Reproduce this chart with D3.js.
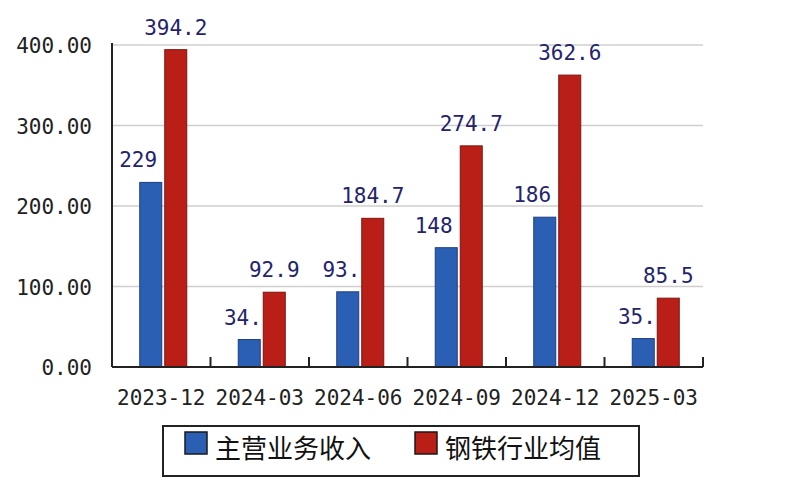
<!DOCTYPE html>
<html>
<head>
<meta charset="utf-8">
<script src="https://cdn.jsdelivr.net/npm/d3@7"></script>
<style>
  body { margin: 0; background: #fff; }
  svg { display: block; }
</style>
</head>
<body>
<script>
// data
var categories = ["2023-12", "2024-03", "2024-06", "2024-09", "2024-12", "2025-03"];
var revenue = [229.3, 34.1, 93.4, 148.2, 186.1, 35.3];      // 主营业务收入
var industryAvg = [394.2, 92.9, 184.7, 274.7, 362.6, 85.5];  // 钢铁行业均值
var seriesNames = ["主营业务收入", "钢铁行业均值"];
var yTicks = [0, 100, 200, 300, 400];

var colors = ["#2b5fb3", "#b91f16"];
var strokes = ["#1c3d85", "#7e140e"];

var W = 800, H = 500;
var plot = { left: 112, right: 703, top: 45, bottom: 367 };

var svg = d3.select("body").append("svg")
    .attr("width", W)
    .attr("height", H);

var x = d3.scaleBand()
    .domain(categories)
    .range([plot.left, plot.right]);

var y = d3.scaleLinear()
    .domain([0, 400])
    .range([plot.bottom, plot.top]);

var barW = 22, gap = 3;

// bar centre for series s in category i
function barCenter(i, s) {
    return x(categories[i]) + x.bandwidth() / 2 + 2 + (s === 0 ? -(barW + gap) / 2 : (barW + gap) / 2);
}

// gridlines
svg.append("g")
    .selectAll("line")
    .data(yTicks.filter(function(d) { return d > 0; }))
    .enter().append("line")
    .attr("x1", plot.left)
    .attr("x2", plot.right)
    .attr("y1", function(d) { return y(d); })
    .attr("y2", function(d) { return y(d); })
    .attr("stroke", "#cfcfcf")
    .attr("stroke-width", 1.5);

// y labels
svg.append("g")
    .selectAll("text")
    .data(yTicks)
    .enter().append("text")
    .attr("x", plot.left - 20)
    .attr("y", function(d) { return y(d) + 8; })
    .attr("text-anchor", "end")
    .attr("font-family", "DejaVu Sans Mono, monospace")
    .attr("font-size", 21)
    .attr("fill", "#222")
    .text(function(d) { return d.toFixed(2); });

// bars
var groups = [revenue, industryAvg];
groups.forEach(function(vals, s) {
    svg.append("g")
        .selectAll("rect")
        .data(vals)
        .enter().append("rect")
        .attr("x", function(d, i) { return barCenter(i, s) - barW / 2; })
        .attr("y", function(d) { return y(d); })
        .attr("width", barW)
        .attr("height", function(d) { return plot.bottom - y(d); })
        .attr("fill", colors[s])
        .attr("stroke", strokes[s])
        .attr("stroke-width", 1);
});

// value labels
groups.forEach(function(vals, s) {
    svg.append("g")
        .selectAll("text")
        .data(vals)
        .enter().append("text")
        .attr("font-family", "DejaVu Sans Mono, monospace")
        .attr("font-size", 21)
        .attr("fill", "#23236e")
        .attr("y", function(d) { return y(d) - 15; })
        .each(function(d, i) {
            var cx = barCenter(i, s);
            var full = d.toFixed(1);
            var t = d3.select(this).text(full);
            var len = this.getComputedTextLength();
            // first series only shows the first 3 characters of its label
            if (s === 0) t.text(full.slice(0, 3));
            t.attr("x", cx - len / 2);
        });
});

// axes lines
svg.append("line")
    .attr("x1", plot.left).attr("x2", plot.left)
    .attr("y1", plot.top - 2).attr("y2", plot.bottom)
    .attr("stroke", "#222").attr("stroke-width", 2);

svg.append("line")
    .attr("x1", plot.left).attr("x2", plot.right)
    .attr("y1", plot.bottom).attr("y2", plot.bottom)
    .attr("stroke", "#222").attr("stroke-width", 2);

// x ticks at band edges
svg.append("g")
    .selectAll("line")
    .data(categories)
    .enter().append("line")
    .attr("x1", function(d) { return x(d) + x.bandwidth(); })
    .attr("x2", function(d) { return x(d) + x.bandwidth(); })
    .attr("y1", plot.bottom)
    .attr("y2", plot.bottom - 10)
    .attr("stroke", "#222")
    .attr("stroke-width", 2);

// x labels
svg.append("g")
    .selectAll("text")
    .data(categories)
    .enter().append("text")
    .attr("x", function(d) { return x(d) + x.bandwidth() / 2; })
    .attr("y", plot.bottom + 38)
    .attr("text-anchor", "middle")
    .attr("font-family", "DejaVu Sans Mono, monospace")
    .attr("font-size", 21)
    .attr("fill", "#222")
    .text(function(d) { return d; });

// legend
var legend = svg.append("g");
legend.append("rect")
    .attr("x", 163).attr("y", 426)
    .attr("width", 476).attr("height", 50)
    .attr("fill", "#fff")
    .attr("stroke", "#222")
    .attr("stroke-width", 2);

var legendX = [185, 415];
seriesNames.forEach(function(name, s) {
    legend.append("rect")
        .attr("x", legendX[s]).attr("y", 432)
        .attr("width", 22).attr("height", 22)
        .attr("fill", colors[s])
        .attr("stroke", "#1a1a1a")
        .attr("stroke-width", 1.5);
    legend.append("text")
        .attr("x", legendX[s] + 30)
        .attr("y", 458)
        .attr("font-family", "Noto Sans CJK SC, sans-serif")
        .attr("font-size", 26)
        .attr("fill", "#111")
        .text(name);
});
</script>
</body>
</html>
